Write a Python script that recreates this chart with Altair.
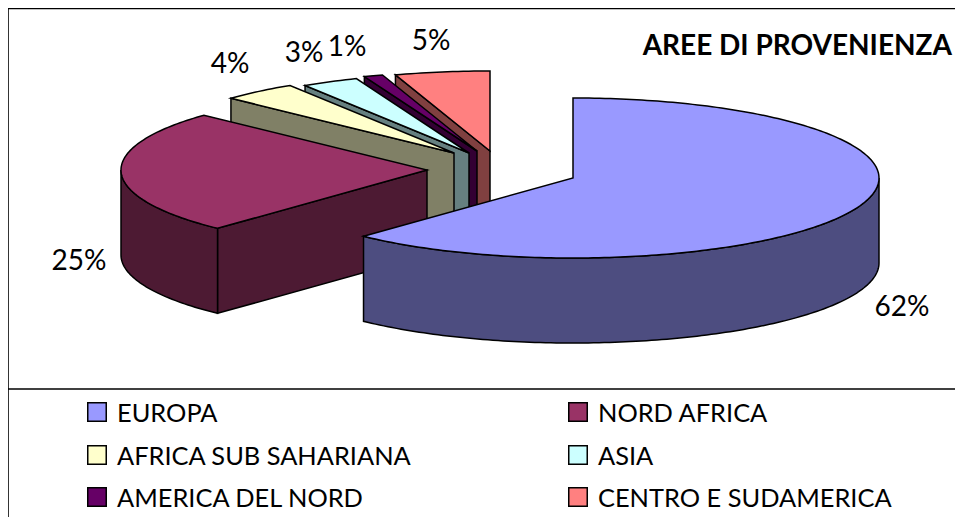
import math
import altair as alt
import pandas as pd

# --- chart data
categories = ["EUROPA", "NORD AFRICA", "AFRICA SUB SAHARIANA", "ASIA",
              "AMERICA DEL NORD", "CENTRO E SUDAMERICA"]
percent = [62, 25, 4, 3, 1, 5]
colors = ["#9999FF", "#993366", "#FFFFCC", "#CCFFFF", "#660066", "#FF8080"]
side_colors = ["#4D4D80", "#4D1A33", "#808066", "#668080", "#330033", "#804040"]
title_text = "AREE DI PROVENIENZA"

# --- layout of the exploded 3D pie (page pixels)
hubs = [(573, 178), (427, 170), (454, 153), (469, 153), (477, 151), (490, 151)]
RX, RY, DEPTH = 306, 80, 85
label_x = [902, 79, 230, 304, 347, 431]
label_y = [308, 262, 65, 54, 48, 42]
legend_y = [412, 455, 497]
legend_x = [97, 578]
W, H = 947, 509


def rim(hub, a, drop=0):
    t = math.radians(a)
    return [hub[0] + RX * math.sin(t), hub[1] - RY * math.cos(t) + drop]


def arc(hub, a0, a1, drop=0):
    n = max(2, int(abs(a1 - a0)) + 1)
    return [rim(hub, a0 + (a1 - a0) * i / (n - 1), drop) for i in range(n)]


def poly(points, fill):
    ring = [list(p) for p in points]
    ring.append(ring[0])
    return {"type": "Feature", "properties": {"fill": fill},
            "geometry": {"type": "Polygon", "coordinates": [ring]}}


spans = []
start = 0.0
for p in percent:
    spans.append((start, start + p * 3.6))
    start += p * 3.6

# painter's order: back slices first, Europa last
features = []
for i in reversed(range(len(percent))):
    a0, a1 = spans[i]
    hub = hubs[i]
    down = [hub[0], hub[1] + DEPTH]
    first = rim(hub, a0)
    # wall along the cut at the start of the slice
    if i > 0:
        features.append(poly([hub, first, rim(hub, a0, DEPTH), down], side_colors[i]))
    # outer wall, front half only
    lo, hi = max(a0, 90), min(a1, 270)
    if lo < hi:
        features.append(poly(arc(hub, lo, hi) + arc(hub, hi, lo, DEPTH), side_colors[i]))
    features.append(poly([hub] + arc(hub, a0, a1), colors[i]))

slices = alt.InlineData(values={"type": "FeatureCollection", "features": features},
                        format=alt.DataFormat(property="features"))
pie = alt.Chart(slices).mark_geoshape(stroke="black", strokeWidth=1.5).encode(
    fill=alt.Fill("properties.fill:N", scale=None))

frame_lines = [
    [[8, 8], [8, 517]],
    [[8, 8.5], [963, 8.5]],
    [[8, 389], [963, 389]],
]
frame_features = [{"type": "Feature", "properties": {},
                   "geometry": {"type": "LineString", "coordinates": c}} for c in frame_lines]
frame = alt.Chart(alt.InlineData(values={"type": "FeatureCollection", "features": frame_features},
                                 format=alt.DataFormat(property="features"))
                  ).mark_geoshape(filled=False, stroke="black", strokeWidth=1.6)

labels = pd.DataFrame({"t": [f"{p}%" for p in percent], "lon": label_x, "lat": label_y})
label_marks = alt.Chart(labels).mark_text(font="Lato", fontSize=28, color="black").encode(
    longitude="lon:Q", latitude="lat:Q", text="t:N")

title = alt.Chart(pd.DataFrame({"t": [title_text], "lon": [952], "lat": [47]})).mark_text(
    font="Lato", fontSize=28, fontWeight="bold", align="right", color="black").encode(
    longitude="lon:Q", latitude="lat:Q", text="t:N")

legend = pd.DataFrame({
    "name": categories,
    "fill": colors,
    "lon": [legend_x[i % 2] for i in range(6)],
    "lat": [legend_y[i // 2] for i in range(6)],
})
legend["tx"] = legend["lon"] + 20
legend["ty"] = legend["lat"] + 2
swatches = alt.Chart(legend).mark_square(size=342, stroke="black", strokeWidth=1.5, opacity=1).encode(
    longitude="lon:Q", latitude="lat:Q", fill=alt.Fill("fill:N", scale=None))
legend_text = alt.Chart(legend).mark_text(font="Lato", fontSize=25.4, align="left", color="black").encode(
    longitude="tx:Q", latitude="ty:Q", text="name:N")

chart = alt.layer(frame, pie, label_marks, title, swatches, legend_text).project(
    type="identity", scale=1, translate=[-8, -8]
).properties(
    width=W, height=H, padding=0,
    autosize=alt.AutoSizeParams(type="none"),
    background="white",
).configure_view(stroke=None)

chart.save("out.html", embed_options={"renderer": "svg", "actions": False})
